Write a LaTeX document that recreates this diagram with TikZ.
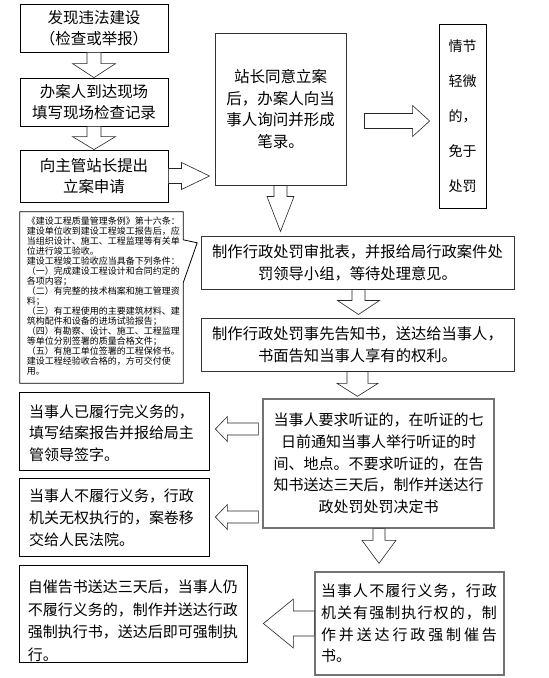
\documentclass[tikz,border=0pt]{standalone}
\usepackage{fontspec}
\setmainfont{Noto Sans CJK SC}
\usetikzlibrary{calc}
\newcommand\fs[2]{\fontsize{#1pt}{#2pt}\selectfont}
\def\sprx#1{\ifx\relax#1\else#1\hfil\expandafter\sprx\fi}
\newcommand\spr[2]{\leavevmode\hbox to #1{\sprx#2\relax\unskip}}
\tikzset{
  box/.style={draw=black, line width=0.8pt, fill=white, inner sep=0pt, align=center},
  gbox/.style={box, draw=black!55, line width=1.3pt},
  blk/.style={draw=black!85, line width=0.6pt, fill=white, line join=miter},
  big/.style={font=\fs{15.5}{20.5}},
  mid/.style={font=\fs{15.3}{21.7}},
  std/.style={font=\fs{15}{21.7}},
  tdown/.style={execute at begin node={\rule{0pt}{#1}}},
}
% block arrows: start, tip, shaft half width, head half width, head length
\newcommand\arrdown[5]{\draw[blk] let \p1=(#1), \p2=(#2) in
  (\x2-#3pt,\y1) -- (\x2-#3pt,\y2+#5pt) -- (\x2-#4pt,\y2+#5pt) -- (\x2,\y2)
  -- (\x2+#4pt,\y2+#5pt) -- (\x2+#3pt,\y2+#5pt) -- (\x2+#3pt,\y1) -- cycle;}
\newcommand\arrright[5]{\draw[blk] let \p1=(#1), \p2=(#2) in
  (\x1,\y2+#3pt) -- (\x2-#5pt,\y2+#3pt) -- (\x2-#5pt,\y2+#4pt) -- (\x2,\y2)
  -- (\x2-#5pt,\y2-#4pt) -- (\x2-#5pt,\y2-#3pt) -- (\x1,\y2-#3pt) -- cycle;}
\newcommand\arrleft[5]{\draw[blk] let \p1=(#1), \p2=(#2) in
  (\x1,\y2+#3pt) -- (\x2+#5pt,\y2+#3pt) -- (\x2+#5pt,\y2+#4pt) -- (\x2,\y2)
  -- (\x2+#5pt,\y2-#4pt) -- (\x2+#5pt,\y2-#3pt) -- (\x1,\y2-#3pt) -- cycle;}
\begin{document}
\begin{tikzpicture}[x=1pt,y=-1pt]
\useasboundingbox[fill=white] (0,0) rectangle (549,678);

% left column
\node[box, big, tdown=21pt, minimum width=148pt, minimum height=48pt] (b1) at (94,28) {发现违法建设\\（检查或举报）};
\node[box, big, tdown=21pt, minimum width=148pt, minimum height=48pt] (b2) at (94,102) {办案人到达现场\\填写现场检查记录};
\node[box, big, tdown=20.5pt, minimum width=148pt, minimum height=52pt] (b3) at (94,176) {向主管站长提出\\立案申请};

% callout
\node[inner sep=0pt, minimum width=163pt, minimum height=171pt] (cb) at (101.5,297.5) {};
\draw[line width=0.8pt] (cb.north west) -- (cb.north east) -- ($(cb.north east)+(0,28)$)
  -- ($(cb.north east)+(14,31)$) -- ($(cb.north east)+(0,71)$) -- (cb.south east)
  -- (cb.south west) -- cycle;
\node[inner sep=0pt, anchor=north west, align=left, font=\fs{9}{10}] (ct) at ($(cb.north west)+(7,5)$) {%
《建设工程质量管理条例》第十六条：\\
建设单位收到建设工程竣工报告后，应\\
当组织设计、施工、工程监理等有关单\\
位进行竣工验收。\\
建设工程竣工验收应当具备下列条件：\\
（一）完成建设工程设计和合同约定的\\
各项内容；\\
（二）有完整的技术档案和施工管理资\\
料；\\
（三）有工程使用的主要建筑材料、建\\
筑构配件和设备的进场试验报告；\\
（四）有勘察、设计、施工、工程监理\\
等单位分别签署的质量合格文件；\\
（五）有施工单位签署的工程保修书。\\
建设工程经验收合格的，方可交付使\\
用。};

% upper right
\node[box, draw=black!80, line width=1pt, minimum width=131pt, minimum height=152pt, font=\fs{15.5}{21.7}] (b4) at (280.5,109) {站长同意立案\\后，办案人向当\\事人询问并形成\\笔录。};
\node[box, minimum width=47pt, minimum height=184pt, font=\fs{14}{35}] (b5) at (462.5,116) {情节\\轻微\\的，\\免于\\处罚};

\node[box, mid, tdown=21.5pt, draw=black!80, line width=1pt, minimum width=313pt, minimum height=53pt] (b6) at (357.5,262.5) {制作行政处罚审批表，并报给局行政案件处\\罚领导小组，等待处理意见。};
\node[box, mid, tdown=21.5pt, draw=black!80, line width=1pt, minimum width=313pt, minimum height=53pt] (b7) at (357.5,344.5) {制作行政处罚事先告知书，送达给当事人，\\书面告知当事人享有的权利。};

\node[gbox, std, tdown=20pt, minimum width=231pt, minimum height=129pt] (b8) at (378.5,463.5) {当事人要求听证的，在听证的七\\日前通知当事人举行听证的时\\间、地点。不要求听证的，在告\\知书送达三天后，制作并送达行\\政处罚处罚决定书};

\node[box, font=\fs{15}{21.5}, tdown=16.5pt, align=left, text width=170pt, inner xsep=10pt, minimum height=78pt] (b9) at (114,431) {当事人已履行完义务的，\\填写结案报告并报给局主\\管领导签字。};
\node[box, font=\fs{15}{22}, tdown=15pt, align=left, text width=170pt, inner xsep=10pt, minimum height=78pt] (b10) at (114,517) {当事人不履行义务，行政\\机关无权执行的，案卷移\\交给人民法院。};

\node[gbox, std, align=left, text width=177pt, inner xsep=6pt, minimum height=103pt] (b11) at (409.5,623.5) {\spr{176pt}{当事人不履行义务，行政}\\\spr{176pt}{机关有强制执行权的，制}\\\spr{176pt}{作并送达行政强制催告}\\书。};

\node[box, minimum width=228pt, minimum height=97pt] (b12) at (133,613.5) {};
\node[inner sep=0pt, anchor=north west, align=left, font=\fs{15}{22.7}] (t12) at ($(b12.north west)+(9,15)$) {自催告书送达三天后，当事人仍\\不履行义务的，制作并送达行政\\强制执行书，送达后即可强制执\\行。};

% block arrows
\arrdown{b1.south}{b2.north}{7}{21.5}{14}
\arrdown{b2.south}{b3.north}{7}{21.5}{13}
\arrright{b3.east}{$(b4.west |- b3.east)+(-5,0)$}{7.5}{13.5}{28}
\arrright{$(b4.east)+(18,12)$}{$(b5.west)+(-9,5)$}{7.5}{15.5}{17}
\arrdown{b4.south}{$(b4.south |- b6.north)+(0,-4)$}{6.5}{13.5}{35}
\arrdown{$(b6.south)+(1,0)$}{$(b7.north)+(1,-3)$}{6.5}{21}{14}
\arrdown{b7.south}{$(b8.north -| b7.south)+(0,-2)$}{10.5}{20.5}{13}
\arrleft{$(b8.west |- b9.east)+(-4,-2)$}{$(b9.east)+(6,-2)$}{6}{12.5}{12}
\arrleft{$(b8.west |- b10.east)+(-4,0)$}{$(b10.east)+(6,0)$}{6}{12.5}{12}
\arrdown{$(b8.south)+(0.5,0)$}{$(b11.north -| b8.south)+(0.5,-8)$}{6}{17}{23}
\arrleft{b11.west}{$(b12.east)+(16,10)$}{12.5}{24.5}{30}
\end{tikzpicture}
\end{document}
